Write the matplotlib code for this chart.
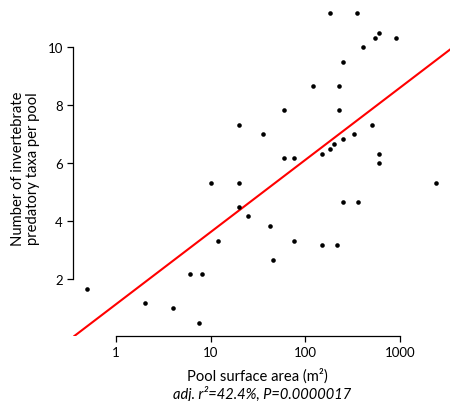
import numpy as np
import matplotlib
matplotlib.use('Agg')
import matplotlib.pyplot as plt

plt.rcParams['font.family'] = ['Lato', 'DejaVu Sans']

# pool surface area (m2) and number of predatory taxa per pool
area = [20, 180, 348, 603, 543, 905, 403, 251, 120, 226,
        60, 226, 505, 36, 328, 251, 200, 180, 151, 603,
        603, 60, 75, 10, 20, 20, 25, 12, 6, 8,
        0.5, 2, 4, 7.5, 2412, 251, 362, 42, 75, 151,
        217, 45]
taxa = [7.33, 11.17, 11.17, 10.5, 10.33, 10.33, 10.0, 9.5, 8.67, 8.67,
        7.83, 7.83, 7.33, 7.0, 7.0, 6.83, 6.67, 6.5, 6.33, 6.33,
        6.0, 6.17, 6.17, 5.33, 5.33, 4.5, 4.17, 3.33, 2.17, 2.17,
        1.67, 1.17, 1.0, 0.5, 5.33, 4.67, 4.67, 3.83, 3.33, 3.17,
        3.17, 2.67]

# fitted line: taxa = a + b*log10(area)
fit_a = 1.14
fit_b = 2.49

xticks = [1, 10, 100, 1000]
yticks = [2, 4, 6, 8, 10]

W, H = 450, 402
fig = plt.figure(figsize=(W / 100, H / 100), dpi=100)
left, right, top, bottom = 73.3, 450, 1, 336.5
ax = fig.add_axes([left / W, 1 - bottom / H, (right - left) / W, (bottom - top) / H])

ax.set_xscale('log')
ax.set_xlim(10 ** ((left - 116) / 94.7), 10 ** ((right - 116) / 94.7))
ax.set_ylim(10 - (bottom - 48.3) / 29.0, 10 - (top - 48.3) / 29.0)

ax.plot(area, taxa, 'o', color='black', markersize=3.3, markeredgewidth=0, zorder=3)

xl = np.array(ax.get_xlim())
ax.plot(xl, fit_a + fit_b * np.log10(xl), color='#ff0000', linewidth=1.5, zorder=2)

for s in ['top', 'right']:
    ax.spines[s].set_visible(False)
ax.spines['left'].set_bounds(2, 10)
ax.spines['bottom'].set_bounds(1, 1000)
for s in ['left', 'bottom']:
    ax.spines[s].set_linewidth(0.9)

ax.set_xticks(xticks)
ax.set_xticklabels([str(t) for t in xticks])
ax.xaxis.set_minor_locator(matplotlib.ticker.NullLocator())
ax.set_yticks(yticks)
ax.set_yticklabels([str(t) for t in yticks])
ax.tick_params(axis='both', direction='out', length=4.5, width=0.9, labelsize=9.5, pad=3)

# labels placed in pixel coordinates, sized to match reference widths
ylab = fig.text(25.5 / W, 1 - 169 / H, 'Number of invertebrate\npredatory taxa per pool',
                rotation=90, fontsize=9, ha='center', va='center', linespacing=1.15)
xlab = fig.text(257 / W, 1 - 376 / H, 'Pool surface area (m²)',
                fontsize=9, ha='center', va='center')
sub = fig.text(262 / W, 1 - 394 / H, 'adj. r²=42.4%, P=0.0000017',
               fontsize=9, style='italic', ha='center', va='center')

fig.canvas.draw()
r = fig.canvas.get_renderer()
ylab.set_fontsize(9 * 155 / ylab.get_window_extent(r).height)
xlab.set_fontsize(9 * 141 / xlab.get_window_extent(r).width)
sub.set_fontsize(9 * 178 / sub.get_window_extent(r).width)

plt.savefig('out.png', dpi=100)
